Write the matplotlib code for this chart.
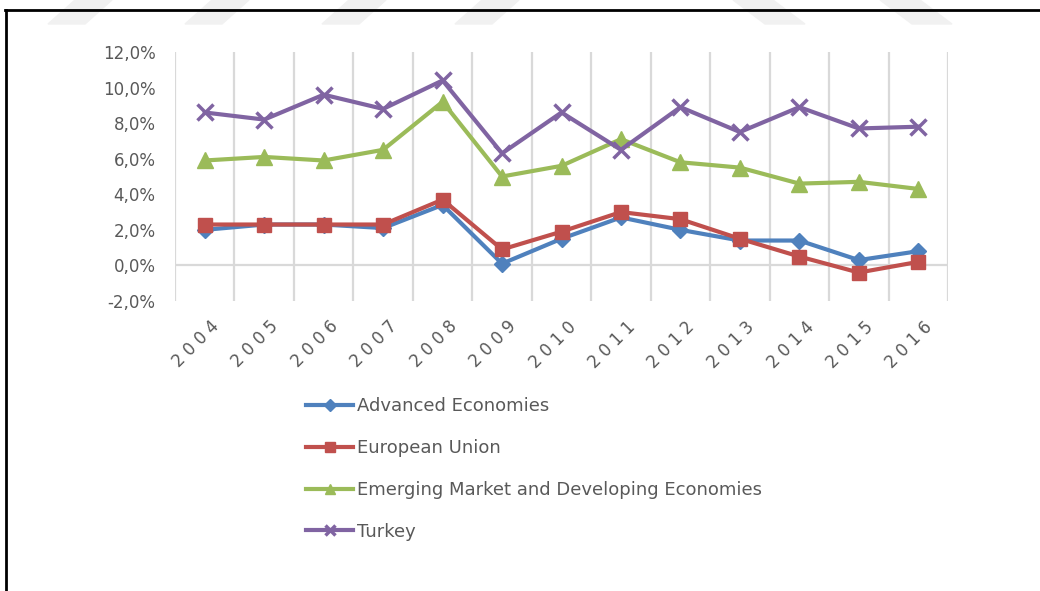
import matplotlib
matplotlib.use("Agg")
import matplotlib.pyplot as plt
import matplotlib.transforms as mtransforms
from matplotlib.patches import Polygon
from matplotlib.lines import Line2D

# inflation, %
years = [str(y) for y in range(2004, 2017)]
advanced = [2.0, 2.3, 2.3, 2.1, 3.4, 0.1, 1.5, 2.7, 2.0, 1.4, 1.4, 0.3, 0.8]
eu = [2.3, 2.3, 2.3, 2.3, 3.7, 0.9, 1.9, 3.0, 2.6, 1.5, 0.5, -0.4, 0.2]
emde = [5.9, 6.1, 5.9, 6.5, 9.2, 5.0, 5.6, 7.1, 5.8, 5.5, 4.6, 4.7, 4.3]
turkey = [8.6, 8.2, 9.6, 8.8, 10.4, 6.3, 8.6, 6.5, 8.9, 7.5, 8.9, 7.7, 7.8]

series_names = ["Advanced Economies", "European Union",
                "Emerging Market and Developing Economies", "Turkey"]
y_ticks = [-2, 0, 2, 4, 6, 8, 10, 12]

W, H = 1040, 591
fig = plt.figure(figsize=(W / 100, H / 100), dpi=100)

def fx(x):
    return x / W

def fy(y):
    return 1 - y / H

# faint watermark chevrons at the top
for x0 in [48, 185, 322, 455]:
    pts = [(x0, 24), (x0 + 37, 24), (x0 + 64, 0), (x0 + 27, 0)]
    fig.patches.append(Polygon([(fx(a), fy(b)) for a, b in pts], closed=True,
                               transform=fig.transFigure, color="#f1f1f1", zorder=0))
for x0 in [733, 880]:
    pts = [(x0, 0), (x0 + 40, 0), (x0 + 72, 24), (x0 + 32, 24)]
    fig.patches.append(Polygon([(fx(a), fy(b)) for a, b in pts], closed=True,
                               transform=fig.transFigure, color="#f1f1f1", zorder=0))

# black frame (top and left)
fig.add_artist(Line2D([fx(5), fx(1040)], [fy(10), fy(10)], transform=fig.transFigure,
                      color="black", lw=2))
fig.add_artist(Line2D([fx(6), fx(6)], [fy(10), fy(591)], transform=fig.transFigure,
                      color="black", lw=2))

ax = fig.add_axes([fx(175), fy(301), fx(948) - fx(175), fy(52) - fy(301)])

x = list(range(len(years)))
grid_c = "#d9d9d9"
for i in range(len(years) + 1):
    ax.axvline(i - 0.5, color=grid_c, lw=1.6, zorder=1)
ax.axhline(0, color=grid_c, lw=1.6, zorder=1)

ax.plot(x, advanced, color="#4f81bd", lw=3, marker="D", ms=8.5, zorder=3, label=series_names[0])
ax.plot(x, eu, color="#c0504d", lw=3, marker="s", ms=10.5, zorder=4, label=series_names[1])
ax.plot(x, emde, color="#9bbb59", lw=3, marker="^", ms=11, zorder=3, label=series_names[2])
ax.plot(x, turkey, color="#8064a2", lw=3, marker="x", ms=11, mew=2.5, zorder=3,
        label=series_names[3])

ax.set_xlim(-0.5, len(years) - 0.5)
ax.set_ylim(-2, 12)
ax.set_yticks(y_ticks)
ax.set_yticklabels([f"{v:.1f}%".replace(".", ",") for v in y_ticks])
ax.set_xticks(x)
ax.set_xticklabels([" ".join(y) for y in years], rotation=45, ha="right")
ax.tick_params(axis="both", length=0, colors="#595959", labelsize=12)
ax.tick_params(axis="y", pad=14)
ax.tick_params(axis="x", pad=12)
offset = mtransforms.ScaledTranslation(18 / 100, 0, fig.dpi_scale_trans)
for lab in ax.get_xticklabels():
    lab.set_transform(lab.get_transform() + offset)
for s in ax.spines.values():
    s.set_visible(False)

handles, labels = ax.get_legend_handles_labels()
leg = fig.legend(handles, labels, loc="upper left",
                 bbox_to_anchor=(fx(290), fy(381)), frameon=False,
                 fontsize=13, labelcolor="#595959", handlelength=2.6,
                 handletextpad=0.2, labelspacing=1.32, markerscale=0.7)

fig.savefig("out.png", dpi=100)
